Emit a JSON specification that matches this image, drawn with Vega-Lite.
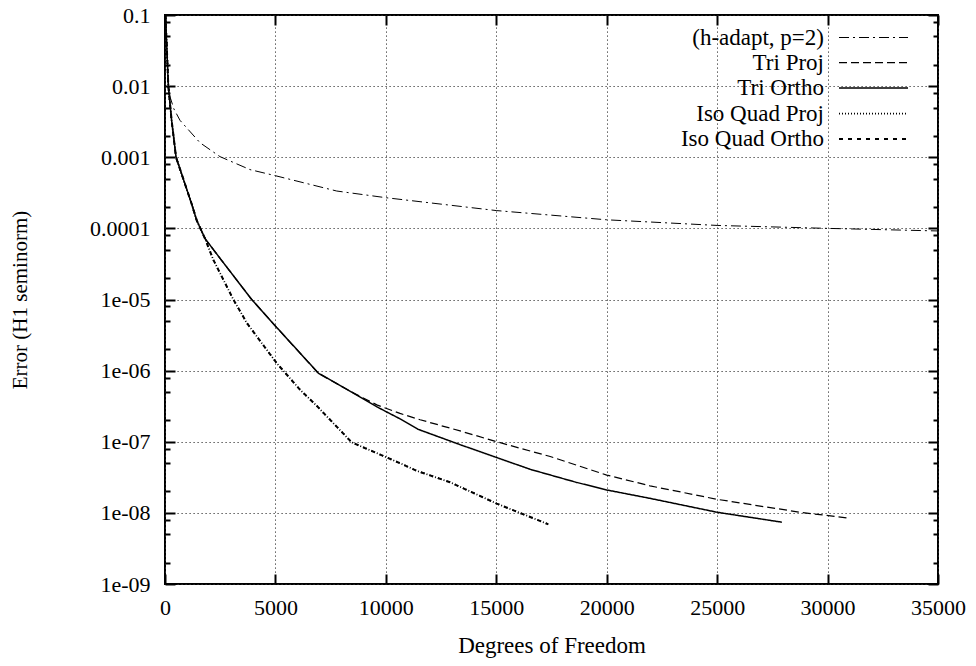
{
  "$schema": "https://vega.github.io/schema/vega-lite/v6.json",
  "width": 773,
  "height": 569,
  "autosize": {"type": "none"},
  "padding": {"left": 165, "top": 15, "right": 38, "bottom": 82},
  "background": "white",
  "config": {
    "view": {"stroke": "black", "strokeWidth": 2},
    "font": "Liberation Serif",
    "axis": {
      "domain": false,
      "labelFont": "Liberation Serif",
      "titleFont": "Liberation Serif",
      "labelColor": "black",
      "titleColor": "black",
      "titleFontWeight": "normal",
      "tickColor": "black",
      "tickWidth": 2,
      "gridColor": "#333333",
      "gridDash": [1.2, 2.8],
      "gridWidth": 1,
      "gridOpacity": 1
    },
    "legend": {"labelFont": "Liberation Serif"}
  },
  "datasets": {
    "d": [
      {"series": "(h-adapt, p=2)", "dof": 20, "err": 0.1},
      {"series": "(h-adapt, p=2)", "dof": 75, "err": 0.04},
      {"series": "(h-adapt, p=2)", "dof": 150, "err": 0.012},
      {"series": "(h-adapt, p=2)", "dof": 226, "err": 0.0071},
      {"series": "(h-adapt, p=2)", "dof": 400, "err": 0.0048},
      {"series": "(h-adapt, p=2)", "dof": 680, "err": 0.0033},
      {"series": "(h-adapt, p=2)", "dof": 1585, "err": 0.0016},
      {"series": "(h-adapt, p=2)", "dof": 2490, "err": 0.00102},
      {"series": "(h-adapt, p=2)", "dof": 3850, "err": 0.00067},
      {"series": "(h-adapt, p=2)", "dof": 5000, "err": 0.00055},
      {"series": "(h-adapt, p=2)", "dof": 7775, "err": 0.000335},
      {"series": "(h-adapt, p=2)", "dof": 10000, "err": 0.00027},
      {"series": "(h-adapt, p=2)", "dof": 15000, "err": 0.000178},
      {"series": "(h-adapt, p=2)", "dof": 20000, "err": 0.000132},
      {"series": "(h-adapt, p=2)", "dof": 25000, "err": 0.00011},
      {"series": "(h-adapt, p=2)", "dof": 30000, "err": 0.0001},
      {"series": "(h-adapt, p=2)", "dof": 35000, "err": 0.000092},

      {"series": "Tri Proj", "dof": 20, "err": 0.1},
      {"series": "Tri Proj", "dof": 75, "err": 0.04},
      {"series": "Tri Proj", "dof": 150, "err": 0.01},
      {"series": "Tri Proj", "dof": 300, "err": 0.0033},
      {"series": "Tri Proj", "dof": 500, "err": 0.001},
      {"series": "Tri Proj", "dof": 906, "err": 0.00042},
      {"series": "Tri Proj", "dof": 1208, "err": 0.00022},
      {"series": "Tri Proj", "dof": 1435, "err": 0.00013},
      {"series": "Tri Proj", "dof": 1810, "err": 0.000072},
      {"series": "Tri Proj", "dof": 2490, "err": 0.000038},
      {"series": "Tri Proj", "dof": 3925, "err": 0.00001},
      {"series": "Tri Proj", "dof": 5010, "err": 0.0000042},
      {"series": "Tri Proj", "dof": 6945, "err": 9.2e-7},
      {"series": "Tri Proj", "dof": 8500, "err": 4.9e-7},
      {"series": "Tri Proj", "dof": 9590, "err": 3.3e-7},
      {"series": "Tri Proj", "dof": 10640, "err": 2.5e-7},
      {"series": "Tri Proj", "dof": 11550, "err": 2.04e-7},
      {"series": "Tri Proj", "dof": 13360, "err": 1.42e-7},
      {"series": "Tri Proj", "dof": 15020, "err": 1.0e-7},
      {"series": "Tri Proj", "dof": 17440, "err": 6.2e-8},
      {"series": "Tri Proj", "dof": 20000, "err": 3.4e-8},
      {"series": "Tri Proj", "dof": 21960, "err": 2.4e-8},
      {"series": "Tri Proj", "dof": 25000, "err": 1.55e-8},
      {"series": "Tri Proj", "dof": 28760, "err": 1.02e-8},
      {"series": "Tri Proj", "dof": 30870, "err": 8.5e-9},

      {"series": "Tri Ortho", "dof": 20, "err": 0.1},
      {"series": "Tri Ortho", "dof": 75, "err": 0.04},
      {"series": "Tri Ortho", "dof": 150, "err": 0.01},
      {"series": "Tri Ortho", "dof": 300, "err": 0.0033},
      {"series": "Tri Ortho", "dof": 500, "err": 0.001},
      {"series": "Tri Ortho", "dof": 906, "err": 0.00042},
      {"series": "Tri Ortho", "dof": 1208, "err": 0.00022},
      {"series": "Tri Ortho", "dof": 1435, "err": 0.00013},
      {"series": "Tri Ortho", "dof": 1810, "err": 0.000072},
      {"series": "Tri Ortho", "dof": 2490, "err": 0.000038},
      {"series": "Tri Ortho", "dof": 3925, "err": 0.00001},
      {"series": "Tri Ortho", "dof": 5010, "err": 0.0000042},
      {"series": "Tri Ortho", "dof": 6945, "err": 9.2e-7},
      {"series": "Tri Ortho", "dof": 8500, "err": 4.9e-7},
      {"series": "Tri Ortho", "dof": 9590, "err": 3.1e-7},
      {"series": "Tri Ortho", "dof": 10640, "err": 2.1e-7},
      {"series": "Tri Ortho", "dof": 11450, "err": 1.5e-7},
      {"series": "Tri Ortho", "dof": 13360, "err": 9.1e-8},
      {"series": "Tri Ortho", "dof": 15020, "err": 6.0e-8},
      {"series": "Tri Ortho", "dof": 16530, "err": 4.1e-8},
      {"series": "Tri Ortho", "dof": 18600, "err": 2.7e-8},
      {"series": "Tri Ortho", "dof": 20000, "err": 2.1e-8},
      {"series": "Tri Ortho", "dof": 21960, "err": 1.6e-8},
      {"series": "Tri Ortho", "dof": 25000, "err": 1.02e-8},
      {"series": "Tri Ortho", "dof": 27930, "err": 7.4e-9},

      {"series": "Iso Quad Proj", "dof": 20, "err": 0.1},
      {"series": "Iso Quad Proj", "dof": 75, "err": 0.04},
      {"series": "Iso Quad Proj", "dof": 150, "err": 0.01},
      {"series": "Iso Quad Proj", "dof": 300, "err": 0.0033},
      {"series": "Iso Quad Proj", "dof": 500, "err": 0.001},
      {"series": "Iso Quad Proj", "dof": 906, "err": 0.00042},
      {"series": "Iso Quad Proj", "dof": 1208, "err": 0.00022},
      {"series": "Iso Quad Proj", "dof": 1435, "err": 0.00013},
      {"series": "Iso Quad Proj", "dof": 1810, "err": 0.000072},
      {"series": "Iso Quad Proj", "dof": 2190, "err": 0.000036},
      {"series": "Iso Quad Proj", "dof": 3095, "err": 0.00001},
      {"series": "Iso Quad Proj", "dof": 3700, "err": 0.0000047},
      {"series": "Iso Quad Proj", "dof": 5060, "err": 0.00000127},
      {"series": "Iso Quad Proj", "dof": 6110, "err": 5.4e-7},
      {"series": "Iso Quad Proj", "dof": 6870, "err": 3.2e-7},
      {"series": "Iso Quad Proj", "dof": 8455, "err": 9.8e-8},
      {"series": "Iso Quad Proj", "dof": 10640, "err": 5.0e-8},
      {"series": "Iso Quad Proj", "dof": 11400, "err": 3.9e-8},
      {"series": "Iso Quad Proj", "dof": 12900, "err": 2.7e-8},
      {"series": "Iso Quad Proj", "dof": 15020, "err": 1.35e-8},
      {"series": "Iso Quad Proj", "dof": 17360, "err": 6.9e-9},

      {"series": "Iso Quad Ortho", "dof": 20, "err": 0.1},
      {"series": "Iso Quad Ortho", "dof": 75, "err": 0.04},
      {"series": "Iso Quad Ortho", "dof": 150, "err": 0.01},
      {"series": "Iso Quad Ortho", "dof": 300, "err": 0.0033},
      {"series": "Iso Quad Ortho", "dof": 500, "err": 0.001},
      {"series": "Iso Quad Ortho", "dof": 906, "err": 0.00042},
      {"series": "Iso Quad Ortho", "dof": 1208, "err": 0.00022},
      {"series": "Iso Quad Ortho", "dof": 1435, "err": 0.00013},
      {"series": "Iso Quad Ortho", "dof": 1810, "err": 0.000072},
      {"series": "Iso Quad Ortho", "dof": 2190, "err": 0.000036},
      {"series": "Iso Quad Ortho", "dof": 3095, "err": 0.00001},
      {"series": "Iso Quad Ortho", "dof": 3700, "err": 0.0000047},
      {"series": "Iso Quad Ortho", "dof": 5060, "err": 0.00000127},
      {"series": "Iso Quad Ortho", "dof": 6110, "err": 5.4e-7},
      {"series": "Iso Quad Ortho", "dof": 6870, "err": 3.2e-7},
      {"series": "Iso Quad Ortho", "dof": 8455, "err": 9.8e-8},
      {"series": "Iso Quad Ortho", "dof": 10640, "err": 5.0e-8},
      {"series": "Iso Quad Ortho", "dof": 11400, "err": 3.9e-8},
      {"series": "Iso Quad Ortho", "dof": 12900, "err": 2.7e-8},
      {"series": "Iso Quad Ortho", "dof": 15020, "err": 1.35e-8},
      {"series": "Iso Quad Ortho", "dof": 17360, "err": 6.9e-9}
    ]
  },
  "data": {"name": "d"},
  "layer": [
    {
      "mark": {"type": "line", "clip": true, "color": "black"},
      "encoding": {
        "x": {
          "field": "dof", "type": "quantitative",
          "scale": {"domain": [0, 35000], "nice": false, "zero": false},
          "axis": {
            "orient": "bottom",
            "values": [0, 5000, 10000, 15000, 20000, 25000, 30000, 35000],
            "format": "d",
            "grid": true,
            "tickSize": -10,
            "labelFontSize": 22,
            "labelPadding": 23,
            "labelFlush": false,
            "labelOverlap": false,
            "title": "Degrees of Freedom",
            "titleFontSize": 23,
            "titleX": 386.5,
            "titleY": 61,
            "titleBaseline": "middle",
            "titleAnchor": null
          }
        },
        "y": {
          "field": "err", "type": "quantitative",
          "scale": {"type": "log", "domain": [1e-9, 0.1], "nice": false},
          "axis": {
            "orient": "left",
            "values": [1e-9, 1e-8, 1e-7, 1e-6, 1e-5, 0.0001, 0.001, 0.01, 0.1],
            "labelExpr": "datum.value >= 0.0001 ? toString(datum.value) : replace(format(datum.value, '.0e'), 'e-', 'e-0')",
            "grid": true,
            "tickSize": -10,
            "labelFontSize": 22,
            "labelPadding": 25,
            "labelFlush": false,
            "labelOverlap": false,
            "title": "Error (H1 seminorm)",
            "titleFontSize": 21,
            "titleX": -145,
            "titleY": 284.5,
            "titleAngle": -90,
            "titleBaseline": "middle",
            "titleAnchor": null
          }
        },
        "strokeDash": {
          "field": "series", "type": "nominal",
          "scale": {
            "domain": ["(h-adapt, p=2)", "Tri Proj", "Tri Ortho", "Iso Quad Proj", "Iso Quad Ortho"],
            "range": [[10, 4, 2, 4], [8, 4], [1, 0], [1, 2], [4, 5]]
          },
          "legend": {
            "title": null,
            "orient": "none",
            "legendX": 696,
            "legendY": 10.5,
            "symbolType": "M-3,0H3",
            "symbolSize": 529,
            "symbolStrokeColor": "black",
            "rowPadding": 0.5,
            "labelAlign": "right",
            "labelOffset": -62,
            "labelFontSize": 23,
            "labelColor": "black",
            "labelLimit": 400,
            "padding": 0
          }
        },
        "strokeWidth": {
          "field": "series", "type": "nominal",
          "scale": {
            "domain": ["(h-adapt, p=2)", "Tri Proj", "Tri Ortho", "Iso Quad Proj", "Iso Quad Ortho"],
            "range": [1, 2, 2, 1.2, 1.5]
          },
          "legend": {
            "title": null,
            "orient": "none",
            "legendX": 696,
            "legendY": 10.5,
            "symbolType": "M-3,0H3",
            "symbolSize": 529,
            "symbolStrokeColor": "black",
            "rowPadding": 0.5,
            "labelAlign": "right",
            "labelOffset": -62,
            "labelFontSize": 23,
            "labelColor": "black",
            "labelLimit": 400,
            "padding": 0
          }
        }
      }
    },
    {
      "mark": {"type": "line", "opacity": 0, "clip": true},
      "encoding": {
        "x": {
          "field": "dof", "type": "quantitative",
          "scale": {"domain": [0, 35000], "nice": false, "zero": false},
          "axis": {"orient": "top", "values": [0, 5000, 10000, 15000, 20000, 25000, 30000, 35000], "labels": false, "grid": false, "tickSize": -10, "title": null}
        },
        "y": {
          "field": "err", "type": "quantitative",
          "scale": {"type": "log", "domain": [1e-9, 0.1], "nice": false},
          "axis": {"orient": "right", "values": [1e-9, 1e-8, 1e-7, 1e-6, 1e-5, 0.0001, 0.001, 0.01, 0.1], "labels": false, "grid": false, "tickSize": -10, "title": null}
        }
      }
    },
    {
      "mark": {"type": "line", "opacity": 0, "clip": true},
      "encoding": {
        "x": {"field": "dof", "type": "quantitative", "scale": {"domain": [0, 35000], "nice": false, "zero": false}, "axis": null},
        "y": {
          "field": "err", "type": "quantitative",
          "scale": {"type": "log", "domain": [1e-9, 0.1], "nice": false},
          "axis": {"orient": "left", "values": [2e-9, 5e-9, 8e-9, 2e-8, 5e-8, 8e-8, 2e-7, 5e-7, 8e-7, 2e-6, 5e-6, 8e-6, 2e-5, 5e-5, 8e-5, 0.0002, 0.0005, 0.0008, 0.002, 0.005, 0.008, 0.02, 0.05, 0.08], "labels": false, "grid": false, "tickSize": -5, "title": null}
        }
      }
    },
    {
      "mark": {"type": "line", "opacity": 0, "clip": true},
      "encoding": {
        "x": {"field": "dof", "type": "quantitative", "scale": {"domain": [0, 35000], "nice": false, "zero": false}, "axis": null},
        "y": {
          "field": "err", "type": "quantitative",
          "scale": {"type": "log", "domain": [1e-9, 0.1], "nice": false},
          "axis": {"orient": "right", "values": [2e-9, 5e-9, 8e-9, 2e-8, 5e-8, 8e-8, 2e-7, 5e-7, 8e-7, 2e-6, 5e-6, 8e-6, 2e-5, 5e-5, 8e-5, 0.0002, 0.0005, 0.0008, 0.002, 0.005, 0.008, 0.02, 0.05, 0.08], "labels": false, "grid": false, "tickSize": -5, "title": null}
        }
      }
    }
  ],
  "resolve": {"axis": {"x": "independent", "y": "independent"}}
}
